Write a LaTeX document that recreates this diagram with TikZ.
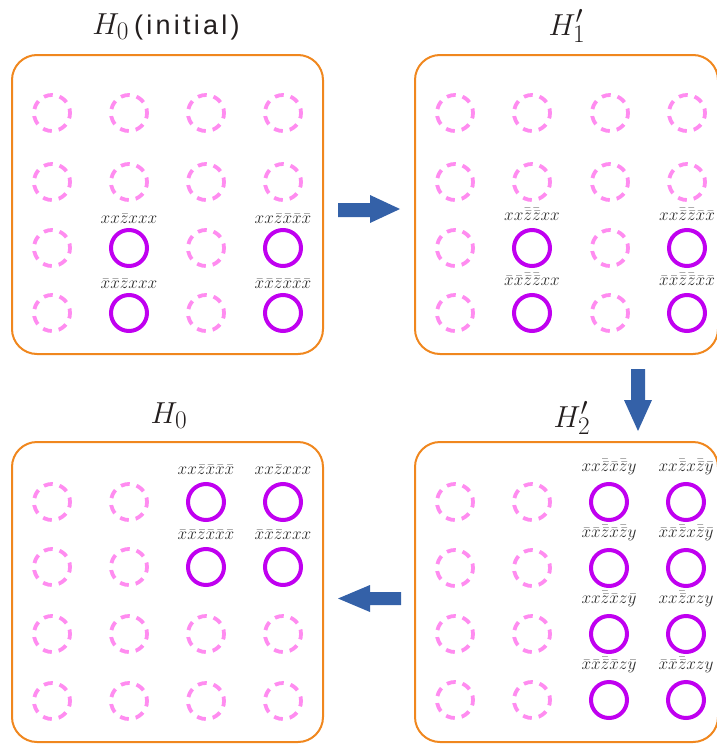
\documentclass[tikz,border=0pt]{standalone}
\usepackage{fontspec}
\newfontfamily\sansA[LetterSpace=12]{Liberation Sans}
\definecolor{orangec}{RGB}{240,135,30}
\definecolor{bluec}{RGB}{52,97,168}
\definecolor{purp}{RGB}{192,0,240}
\definecolor{pinkc}{RGB}{255,140,240}
\definecolor{labc}{RGB}{45,45,45}
\definecolor{titc}{RGB}{35,30,30}
\newcommand{\bbz}{\bar{\bar{z}}}
\newcommand{\bx}{\bar{x}}
\newcommand{\bigmath}[1]{\scalebox{1.22}{\fontsize{24.88}{27}\selectfont$#1$}}
\tikzset{
  dcirc/.style={circle, draw=pinkc, line width=3.8pt, dash pattern=on 9pt off 7pt, dash phase=4.5pt, minimum size=36pt, inner sep=0pt},
  scirc/.style={circle, draw=purp, line width=4pt, minimum size=36pt, inner sep=0pt},
  lab/.style={text=labc, font=\fontsize{17.28}{19}\selectfont, inner sep=0pt, anchor=base},
  panel/.style={draw=orangec, line width=2pt, rounded corners=25pt},
  ttl/.style={text=titc, inner sep=0pt, anchor=base},
  blockarrow/.style={fill=bluec, draw=none}
}
\newcommand{\dashedat}[3]{\node[dcirc] (#1) at (#2,#3) {};}
\newcommand{\solidat}[5]{\node[scirc] (#1) at (#2,#3) {};
  \node[lab] (#1l) at ([yshift=#4pt]#1.center) {$#5$};}
\begin{document}
\begin{tikzpicture}[x=1pt,y=-1pt]
\useasboundingbox (0,0) rectangle (717,747);
% panels
\draw[panel] (12,55) rectangle (323,354);
\draw[panel] (415,55) rectangle (718,354);
\draw[panel] (12,442) rectangle (323,742);
\draw[panel] (415,442) rectangle (718,742);
% titles
\node[ttl] (tA) at (166,34) {\bigmath{H_0}\hspace{5pt}{\sansA\fontsize{27}{29}\selectfont(initial)}};
\node[ttl] (tB) at (567,35) {\bigmath{H'_1}};
\node[ttl] (tC) at (169,423) {\bigmath{H_0}};
\node[ttl] (tD) at (572,427) {\bigmath{H'_2}};
% panel A (top-left)
\foreach \n/\x/\y in {A11/52/113,A12/52/182,A13/52/248,A14/52/313,
  A21/129/113,A22/129/182,A31/206/113,A32/206/182,A33/206/248,A34/206/313,
  A41/283/113,A42/283/182}{\dashedat{\n}{\x}{\y}}
\solidat{A23}{129}{248}{25}{xx\bar{z}xxx}
\solidat{A43}{283}{248}{25}{xx\bar{z}\bx\bx\bx}
\solidat{A24}{129}{313}{25}{\bx\bx\bar{z}xxx}
\solidat{A44}{283}{313}{25}{\bx\bx\bar{z}\bx\bx\bx}
% panel B (top-right)
\foreach \n/\x/\y in {B11/455/113,B12/455/182,B13/455/248,B14/455/313,
  B21/532/113,B22/532/182,B31/610/113,B32/610/182,B33/610/248,B34/610/313,
  B41/687/113,B42/687/182}{\dashedat{\n}{\x}{\y}}
\solidat{B23}{532}{248}{28}{xx\bbz\bbz xx}
\solidat{B43}{687}{248}{28}{xx\bbz\bbz\bx\bx}
\solidat{B24}{532}{313}{28}{\bx\bx\bbz\bbz xx}
\solidat{B44}{687}{313}{28}{\bx\bx\bbz\bbz\bx\bx}
% panel C (bottom-left)
\foreach \n/\x/\y in {C11/52/502,C12/52/567,C13/52/634,C14/52/701,
  C21/129/502,C22/129/567,C23/129/634,C24/129/701,
  C33/206/634,C34/206/701,C43/283/634,C44/283/701}{\dashedat{\n}{\x}{\y}}
\solidat{C31}{206}{502}{28}{xx\bar{z}\bx\bx\bx}
\solidat{C41}{283}{502}{28}{xx\bar{z}xxx}
\solidat{C32}{206}{567}{28}{\bx\bx\bar{z}\bx\bx\bx}
\solidat{C42}{283}{567}{28}{\bx\bx\bar{z}xxx}
% panel D (bottom-right)
\foreach \n/\x/\y in {D11/455/502,D12/455/568,D13/455/634,D14/455/700,
  D21/532/502,D22/532/568,D23/532/634,D24/532/700}{\dashedat{\n}{\x}{\y}}
\solidat{D31}{609}{502}{31}{xx\bbz\bx\bbz y}
\solidat{D41}{686}{502}{31}{xx\bbz x\bbz\bar{y}}
\solidat{D32}{609}{568}{31}{\bx\bx\bbz\bx\bbz y}
\solidat{D42}{686}{568}{31}{\bx\bx\bbz x\bbz\bar{y}}
\solidat{D33}{609}{634}{31}{xx\bbz\bx z\bar{y}}
\solidat{D43}{686}{634}{31}{xx\bbz xzy}
\solidat{D34}{609}{700}{31}{\bx\bx\bbz\bx z\bar{y}}
\solidat{D44}{686}{700}{31}{\bx\bx\bbz xzy}
% arrows
\fill[blockarrow] (338,203) -- (370,203) -- (370,195) -- (400,209) -- (370,223) -- (370,217) -- (338,217) -- cycle;
\fill[blockarrow] (631,369) -- (631,400) -- (624,400) -- (638,431) -- (652,400) -- (645,400) -- (645,369) -- cycle;
\fill[blockarrow] (401,592) -- (370,592) -- (370,585) -- (338,598.5) -- (370,612) -- (370,605) -- (401,605) -- cycle;
\end{tikzpicture}
\end{document}
